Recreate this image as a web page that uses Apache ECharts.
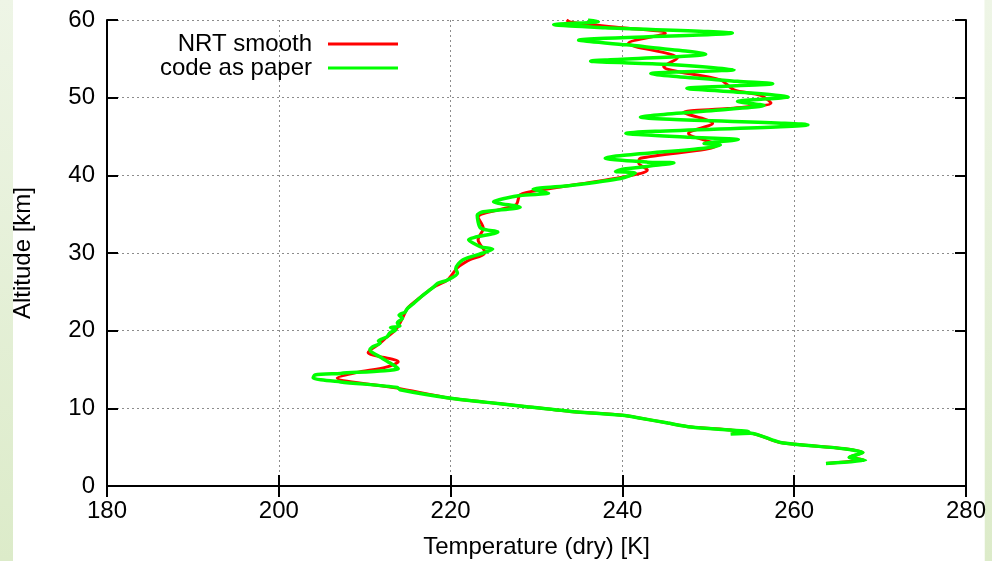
<!DOCTYPE html>
<html>
<head>
<meta charset="utf-8">
<script src="https://cdn.jsdelivr.net/npm/echarts@6/dist/echarts.min.js"></script>
<style>
html,body{margin:0;padding:0;background:#fff;}
#wrap{position:relative;width:992px;height:561px;overflow:hidden;}
#stripL{position:absolute;left:0;top:0;width:13px;height:561px;background:linear-gradient(to bottom,#eef5e6,#dcebc9);}
#stripR{position:absolute;left:984px;top:0;width:8px;height:561px;background:linear-gradient(to bottom,#eef5e6,#dcebc9);border-left:1px solid #f6faf1;}
#chart{position:absolute;left:0;top:0;width:992px;height:561px;}
</style>
</head>
<body>
<div id="wrap"><div id="stripL"></div><div id="stripR"></div><div id="chart"></div></div>
<script>
// Temperature (K) and altitude (km) samples, bottom to top
var redT = [263.7,268.0,266.4,268.0,265.8,258.4,254.8,252.8,254.5,252.6,248.0,245.3,241.8,240.0,234.0,228.1,224.0,220.0,213.8,206.8,209.0,212.5,213.9,210.4,211.8,212.6,213.6,214.4,215.0,216.5,218.0,219.6,220.8,222.0,224.0,223.2,223.8,223.2,227.6,228.1,230.5,240.1,242.9,241.9,242.1,251.1,247.7,250.5,247.1,252.3,257.3,256.1,253.0,251.4,244.8,246.4,240.7,245.0,240.0,234.0,233.5];
var redH = [2.9,3.4,3.7,4.3,4.8,5.6,6.8,6.75,6.95,7.2,7.6,8.1,8.8,9.1,9.6,10.3,10.8,11.3,12.6,13.9,14.6,15.3,16.0,17.2,18.4,19.2,20.1,21.6,22.9,24.3,25.6,26.5,28.1,29.0,30.1,31.7,33.2,34.6,36.2,37.5,38.1,39.8,40.7,41.6,42.2,43.9,45.4,46.7,48.1,48.6,49.3,50.3,51.0,52.3,54.0,55.1,57.0,58.3,59.0,59.7,60.0];
var greenT = [263.7,268.3,266.4,268.0,265.8,258.4,254.9,252.6,254.7,252.6,248.0,245.3,241.8,240.0,234.0,228.1,224.0,220.0,214.1,213.8,207.2,204.0,204.2,207.2,213.9,213.3,211.8,210.6,210.9,211.8,211.6,212.6,212.9,213.6,213.0,214.1,213.8,214.4,214.0,214.7,215.0,215.7,216.5,218.0,218.5,219.6,220.8,220.6,221.4,223.8,224.9,223.5,222.1,225.5,223.5,223.1,223.8,228.1,225.0,228.1,231.4,229.6,234.0,239.8,241.5,239.2,240.0,246.0,242.9,238.0,249.5,251.4,249.5,253.5,247.9,240.4,261.6,242.1,252.3,256.5,253.4,259.3,255.0,247.5,257.5,253.4,243.3,253.0,245.0,236.3,249.7,240.5,234.9,252.8,238.0,232.0,237.2,236.0];
var greenH = [2.9,3.3,3.7,4.3,4.8,5.6,6.8,6.7,7.0,7.2,7.6,8.1,8.8,9.1,9.6,10.3,10.8,11.3,12.4,12.7,13.4,13.9,14.3,14.5,15.1,15.6,16.6,17.5,17.9,18.4,18.7,19.2,19.7,20.1,20.4,20.6,21.0,21.6,22.0,22.4,22.9,23.5,24.3,25.6,26.1,26.5,27.4,28.0,29.1,30.0,30.5,30.8,31.7,32.7,33.2,34.9,35.3,35.9,36.6,37.4,37.7,38.2,38.7,39.6,40.3,40.5,40.8,41.6,41.7,42.2,43.5,43.9,44.1,44.6,44.9,45.4,46.5,47.5,48.5,49.0,49.5,50.1,50.6,51.2,51.8,52.1,53.1,53.6,54.3,54.7,55.6,56.8,57.4,58.3,59.0,59.4,59.8,60.0];
var xTicks = [180,280,20];
var yTicks = [0,60,10];
var seriesNames = ['NRT smooth','code as paper'];

function zip(a,b){var o=[];for(var i=0;i<a.length;i++){o.push([a[i],b[i]]);}return o;}

var font = 'Liberation Sans, Arial, sans-serif';
var fs = 24;
var chart = echarts.init(document.getElementById('chart'), null, {renderer:'canvas'});
var axisCommon = {
  axisLine:{show:true,lineStyle:{color:'#000',width:2}},
  axisTick:{show:true,inside:true,length:11,lineStyle:{color:'#000',width:2}}
};
chart.setOption({
  animation:false,
  backgroundColor:'transparent',
  textStyle:{fontFamily:font},
  grid:{left:107,right:26,top:20,bottom:75,show:false,containLabel:false,outerBoundsMode:'none'},
  legend:{
    orient:'vertical',align:'right',right:589,top:27,itemGap:0,
    itemWidth:70,itemHeight:3,icon:'rect',
    textStyle:{fontSize:fs,color:'#000',fontFamily:font,padding:[0,11,0,0]},
    data:seriesNames
  },
  xAxis:[
    Object.assign({type:'value',min:xTicks[0],max:xTicks[1],interval:xTicks[2],position:'bottom',
      name:'Temperature (dry) [K]',nameLocation:'middle',nameGap:49,
      nameTextStyle:{fontSize:fs,color:'#000',fontFamily:font},
      axisLabel:{fontSize:fs,color:'#000',margin:13,fontFamily:font},
      splitLine:{show:true,lineStyle:{color:'#8c8c8c',width:1,type:[2,3]}}},axisCommon),
    Object.assign({type:'value',min:xTicks[0],max:xTicks[1],interval:xTicks[2],position:'top',
      axisLabel:{show:false},splitLine:{show:false}},axisCommon)
  ],
  yAxis:[
    Object.assign({type:'value',min:yTicks[0],max:yTicks[1],interval:yTicks[2],position:'left',
      name:'Altitude [km]',nameLocation:'middle',nameGap:72,nameRotate:90,
      nameTextStyle:{fontSize:fs,color:'#000',fontFamily:font},
      axisLabel:{fontSize:fs,color:'#000',margin:12,fontFamily:font},
      splitLine:{show:true,lineStyle:{color:'#8c8c8c',width:1,type:[2,3]}}},axisCommon),
    Object.assign({type:'value',min:yTicks[0],max:yTicks[1],interval:yTicks[2],position:'right',
      axisLabel:{show:false},splitLine:{show:false}},axisCommon)
  ],
  series:[
    {name:seriesNames[0],type:'line',xAxisIndex:0,yAxisIndex:0,data:zip(redT,redH),
     showSymbol:false,smooth:0.3,color:'#ff0000',lineStyle:{color:'#ff0000',width:3},itemStyle:{color:'#ff0000'}},
    {name:seriesNames[1],type:'line',xAxisIndex:0,yAxisIndex:0,data:zip(greenT,greenH),
     showSymbol:false,smooth:0.25,color:'#00ff00',lineStyle:{color:'#00ff00',width:3.5},itemStyle:{color:'#00ff00'}}
  ]
});
</script>
</body>
</html>
